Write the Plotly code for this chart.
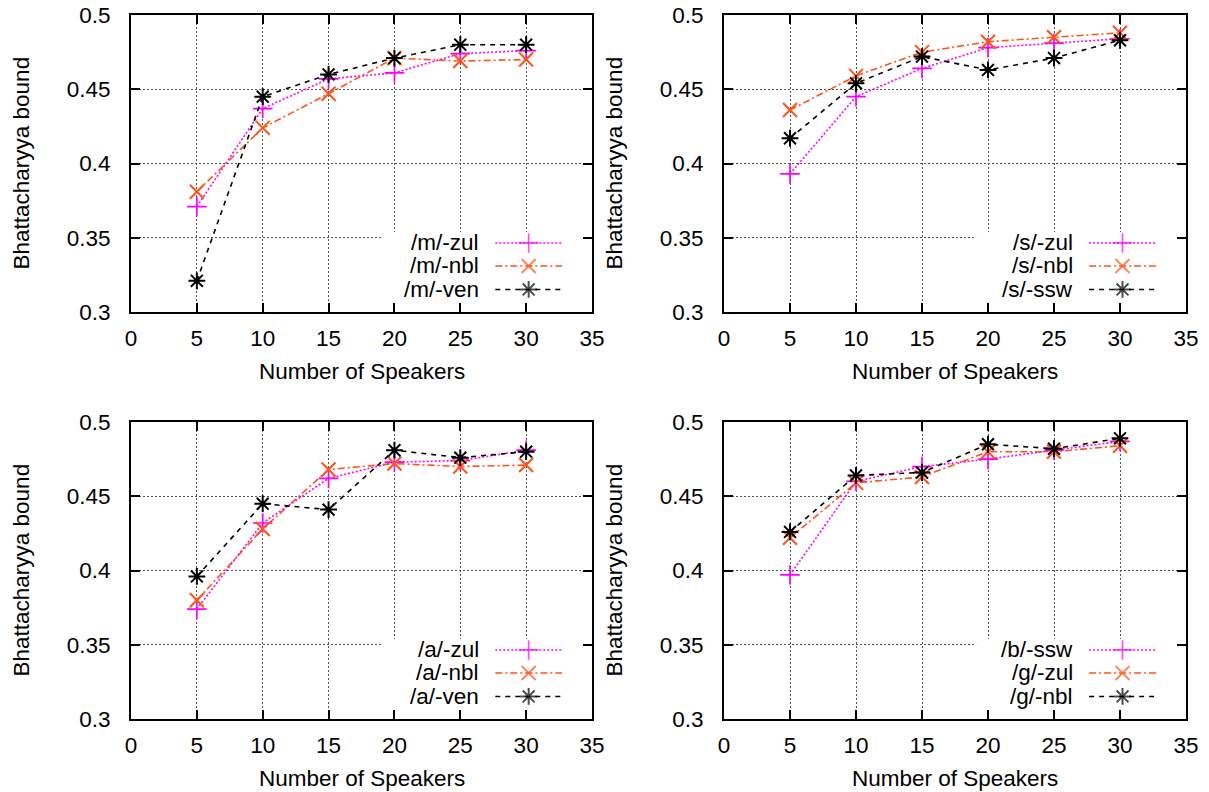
import plotly.graph_objects as go

# ---------------- data ----------------
SPEAKERS = [5, 10, 15, 20, 25, 30]

M_ZUL = [0.371, 0.437, 0.457, 0.461, 0.474, 0.476]
M_NBL = [0.381, 0.424, 0.447, 0.471, 0.469, 0.470]
M_VEN = [0.321, 0.445, 0.460, 0.471, 0.480, 0.480]

S_ZUL = [0.393, 0.445, 0.464, 0.478, 0.481, 0.484]
S_NBL = [0.436, 0.459, 0.475, 0.482, 0.485, 0.488]
S_SSW = [0.417, 0.454, 0.472, 0.463, 0.471, 0.483]

A_ZUL = [0.374, 0.432, 0.462, 0.473, 0.474, 0.481]
A_NBL = [0.380, 0.428, 0.468, 0.472, 0.470, 0.471]
A_VEN = [0.396, 0.445, 0.441, 0.481, 0.476, 0.480]

B_SSW = [0.397, 0.460, 0.470, 0.475, 0.481, 0.487]
G_ZUL = [0.422, 0.459, 0.463, 0.480, 0.480, 0.484]
G_NBL = [0.426, 0.464, 0.466, 0.485, 0.482, 0.489]

PANEL_SERIES = [
    [("/m/-zul", M_ZUL), ("/m/-nbl", M_NBL), ("/m/-ven", M_VEN)],
    [("/s/-zul", S_ZUL), ("/s/-nbl", S_NBL), ("/s/-ssw", S_SSW)],
    [("/a/-zul", A_ZUL), ("/a/-nbl", A_NBL), ("/a/-ven", A_VEN)],
    [("/b/-ssw", B_SSW), ("/g/-zul", G_ZUL), ("/g/-nbl", G_NBL)],
]

X_TICKS = [0, 5, 10, 15, 20, 25, 30, 35]
X_TICK_LABELS = ["0", "5", "10", "15", "20", "25", "30", "35"]
Y_TICKS = [0.3, 0.35, 0.4, 0.45, 0.5]
Y_TICK_LABELS = ["0.3", "0.35", "0.4", "0.45", "0.5"]
X_TITLE = "Number of Speakers"
Y_TITLE = "Bhattacharyya bound"

# ---------------- styles ----------------
W, H = 1209, 792
FONT = "Liberation Sans, Arial, sans-serif"
FS = 22.5

STYLES = [
    dict(color="#ff00ff", dash="2px,2px", symbol="cross-thin-open", size=14, mlw=1.7),
    dict(color="#ff5318", dash="7px,3px,2px,3px", symbol="x-thin-open", size=14, mlw=2),
    dict(color="#000000", dash="5px,5px", symbol="asterisk-open", size=14, mlw=2),
]

# panel pixel boxes (left, right, top, bottom)
BOXES = [
    (131, 592, 15, 312),
    (724, 1186, 15, 312),
    (131, 592, 422, 719),
    (724, 1186, 422, 719),
]

# legend layout (axis units)
LEG_TEXT_X = 26.6
LEG_LINE_X = [27.66, 30.19, 32.73]
LEG_ROWS = [0.3465, 0.331, 0.3152]
LEG_BOX = (19.1, 35, 0.3, 0.3539)

fig = go.Figure()

for p, series in enumerate(PANEL_SERIES):
    sfx = "" if p == 0 else str(p + 1)
    xa, ya = "x" + sfx, "y" + sfx
    for i, (name, vals) in enumerate(series):
        st = STYLES[i]
        fig.add_trace(go.Scatter(
            x=SPEAKERS, y=vals, mode="lines+markers", name=name,
            xaxis=xa, yaxis=ya, showlegend=False,
            line=dict(color=st["color"], width=1.6, dash=st["dash"]),
            marker=dict(symbol=st["symbol"], size=st["size"], color=st["color"],
                        line=dict(color=st["color"], width=st["mlw"])),
        ))
        # legend key
        fig.add_trace(go.Scatter(
            x=LEG_LINE_X, y=[LEG_ROWS[i]] * 3, mode="lines+markers",
            xaxis=xa, yaxis=ya, showlegend=False, hoverinfo="skip",
            line=dict(color=st["color"], width=1.6, dash=st["dash"]),
            marker=dict(symbol=st["symbol"], size=[0, st["size"], 0], color=st["color"],
                        line=dict(color=st["color"], width=st["mlw"])),
        ))
        fig.add_annotation(x=LEG_TEXT_X, y=LEG_ROWS[i], xref=xa, yref=ya,
                           text=name, showarrow=False, xanchor="right", yanchor="middle",
                           font=dict(family=FONT, size=FS, color="black"))
    # white legend background hiding grid
    fig.add_shape(type="rect", xref=xa, yref=ya, x0=LEG_BOX[0], x1=LEG_BOX[1],
                  y0=LEG_BOX[2], y1=LEG_BOX[3], fillcolor="white",
                  line=dict(width=0), layer="between")

    l, r, t, b = BOXES[p]
    axcommon = dict(showline=True, linecolor="black", linewidth=2, mirror="ticks",
                    ticks="inside", ticklen=9, tickwidth=2, tickcolor="black",
                    showgrid=True, gridcolor="#555555", gridwidth=1, griddash="2px,2px",
                    zeroline=False, automargin=False,
                    tickfont=dict(family=FONT, size=FS, color="black"))
    fig.layout["xaxis" + sfx] = dict(
        domain=[l / W, r / W], anchor=ya, range=[0, 35],
        tickvals=X_TICKS, ticktext=X_TICK_LABELS, ticklabelstandoff=5, **axcommon)
    fig.layout["yaxis" + sfx] = dict(
        domain=[1 - b / H, 1 - t / H], anchor=xa, range=[0.3, 0.5],
        tickvals=Y_TICKS, ticktext=Y_TICK_LABELS, ticklabelstandoff=14, **axcommon)

    fig.add_annotation(x=(l + r) / 2 / W, y=1 - (b + 59) / H, xref="paper", yref="paper",
                       text=X_TITLE, showarrow=False, xanchor="center", yanchor="middle",
                       font=dict(family=FONT, size=FS, color="black"))
    fig.add_annotation(x=(l - 110) / W, y=1 - (t + b) / 2 / H, xref="paper", yref="paper",
                       text=Y_TITLE, showarrow=False, textangle=-90,
                       xanchor="center", yanchor="middle",
                       font=dict(family=FONT, size=FS, color="black"))

fig.update_layout(width=W, height=H, autosize=False,
                  margin=dict(l=0, r=0, t=0, b=0, autoexpand=False),
                  paper_bgcolor="white", plot_bgcolor="white",
                  font=dict(family=FONT, size=FS, color="black"))

# remove the browser's default 8px page margin so the figure sits at the page origin
fig.write_html("out.html", config={"displayModeBar": False},
               post_script="document.body.style.margin='0';")
